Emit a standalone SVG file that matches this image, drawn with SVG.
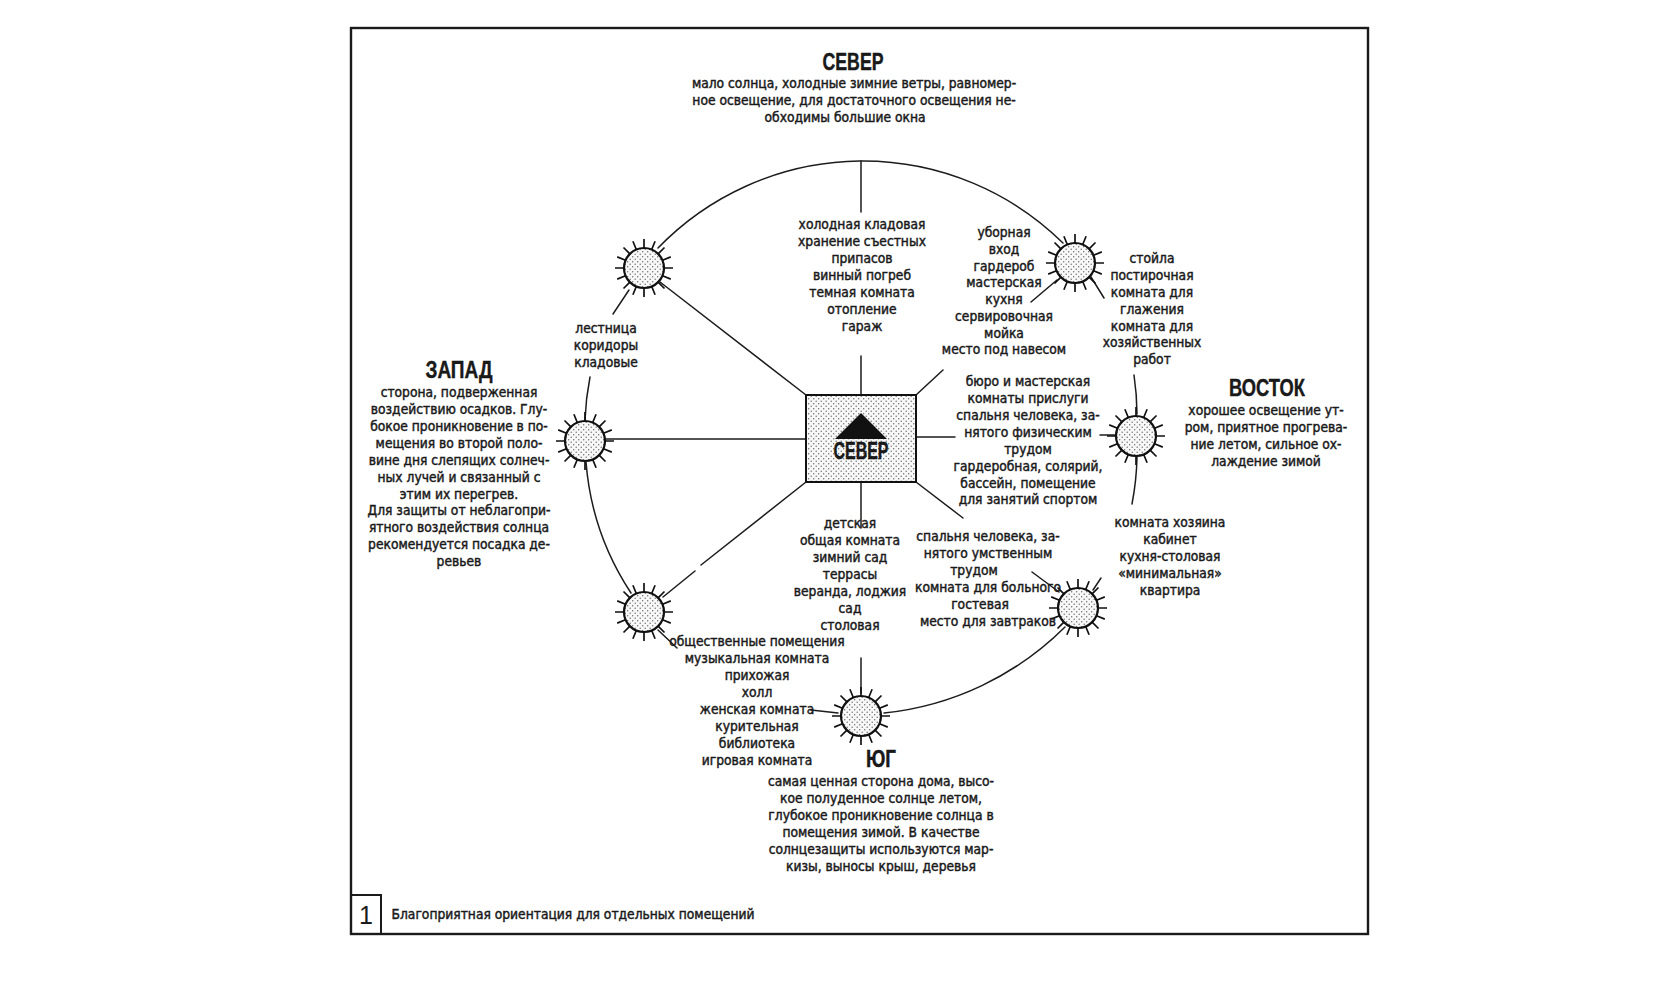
<svg xmlns="http://www.w3.org/2000/svg" xmlns:xlink="http://www.w3.org/1999/xlink" width="1680" height="995" viewBox="0 0 1680 995">
<style>
text{font-family:"DejaVu Sans Condensed","DejaVu Sans",sans-serif;fill:#1a1a1a;text-anchor:middle}
.b text,.cap{font-size:13.7px;stroke:#1a1a1a;stroke-width:.45}
.b text.h,text.h{font-family:"Liberation Sans",Arial,sans-serif;font-weight:700;font-size:23px;stroke:#111;stroke-width:.4}
.num{font-family:"Liberation Sans",Arial,sans-serif;font-size:25px}
.c{fill:none;stroke:#1c1c1c;stroke-width:1.5;stroke-linecap:round}
.s{fill:url(#dots)}
</style>
<defs>
<pattern id="dots" width="5" height="5" patternUnits="userSpaceOnUse">
<rect width="5" height="5" fill="#f8f8f8"/>
<circle cx="1.2" cy="1.2" r=".7" fill="#666"/><circle cx="3.7" cy="3.7" r=".7" fill="#666"/>
</pattern>
<g id="sun">
<circle r="20" class="s" stroke="#111" stroke-width="2.2"/>
<path fill="none" stroke="#111" stroke-width="1.7" d="M20 0H29M18.5 7.7L26.8 11.1M14.1 14.1L20.5 20.5M7.7 18.5L11.1 26.8M0 20V29M-7.7 18.5L-11.1 26.8M-14.1 14.1L-20.5 20.5M-18.5 7.7L-26.8 11.1M-20 0H-29M-18.5 -7.7L-26.8 -11.1M-14.1 -14.1L-20.5 -20.5M-7.7 -18.5L-11.1 -26.8M0 -20V-29M7.7 -18.5L11.1 -26.8M14.1 -14.1L20.5 -20.5M18.5 -7.7L26.8 -11.1"/>
</g>
</defs>
<rect width="1680" height="995" fill="#fff"/>
<g id="frame">
<rect x="351" y="28" width="1017" height="906" fill="#fff" stroke="#1a1a1a" stroke-width="2.4"/>
<rect x="351" y="895" width="30" height="39" fill="none" stroke="#1a1a1a" stroke-width="2"/>
<text class="num" x="366" y="924">1</text>
<text class="cap" x="573" y="919">Благоприятная ориентация для отдельных помещений</text>
</g>
<g id="connectors" class="c">
<path d="M658 248A285 285 0 0 1 1063 243"/>
<path d="M590 377A277 277 0 0 0 585 420"/>
<path d="M586 462A277 277 0 0 0 631 593"/>
<path d="M1134 375A277 277 0 0 1 1137 414"/>
<path d="M1137 457A277 277 0 0 1 1132 504"/>
<path d="M884 713A300 300 0 0 0 1065 627"/>
<path d="M861 161V212M861 356V395M861 482V528"/>
<path d="M806 395L660 282M806 439H606M806 482L701 565M695 571L663 597"/>
<path d="M916 395L943 370M916 437H955M1100 435H1115M916 482L963 518"/>
<path d="M1057 280L1031 302M1091 277L1104 298M629 290L613 314M658 630L677 648"/>
<path d="M861 658V693M838 713L811 710M1032 572L1059 592M1093 590L1101 578"/>
</g>
<g id="center-box">
<rect x="806" y="395" width="110" height="87" class="s" stroke="#111" stroke-width="2"/>
<polygon points="861,413 887,439 835,439" fill="#111"/>
<text class="h" x="861" y="459" textLength="55" lengthAdjust="spacingAndGlyphs">СЕВЕР</text>
</g>
<g id="sun-nw"><use href="#sun" x="644" y="268"/></g>
<g id="sun-ne"><use href="#sun" x="1075" y="263"/></g>
<g id="sun-e"><use href="#sun" x="1136" y="436"/></g>
<g id="sun-se"><use href="#sun" x="1078" y="608"/></g>
<g id="sun-s"><use href="#sun" x="861" y="716"/></g>
<g id="sun-sw"><use href="#sun" x="644" y="612"/></g>
<g id="sun-w"><use href="#sun" x="585" y="441"/></g>
<g id="north" class="b">
<text class="h" x="853" y="70" textLength="61" lengthAdjust="spacingAndGlyphs">СЕВЕР</text>
<text x="854" y="88">мало солнца, холодные зимние ветры, равномер-</text>
<text x="854" y="105">ное освещение, для достаточного освещения не-</text>
<text x="845" y="122">обходимы большие окна</text>
</g>
<g id="west" class="b">
<text class="h" x="459" y="378" textLength="67" lengthAdjust="spacingAndGlyphs">ЗАПАД</text>
<text x="459" y="397">сторона, подверженная</text>
<text x="459" y="414">воздействию осадков. Глу-</text>
<text x="459" y="431">бокое проникновение в по-</text>
<text x="459" y="448">мещения во второй поло-</text>
<text x="459" y="465">вине дня слепящих солнеч-</text>
<text x="459" y="482">ных лучей и связанный с</text>
<text x="459" y="499">этим их перегрев.</text>
<text x="459" y="515">Для защиты от неблагопри-</text>
<text x="459" y="532">ятного воздействия солнца</text>
<text x="459" y="549">рекомендуется посадка де-</text>
<text x="459" y="566">ревьев</text>
</g>
<g id="east" class="b">
<text class="h" x="1267" y="396" textLength="76" lengthAdjust="spacingAndGlyphs">ВОСТОК</text>
<text x="1266" y="415">хорошее освещение ут-</text>
<text x="1266" y="432">ром, приятное прогрева-</text>
<text x="1266" y="449">ние летом, сильное ох-</text>
<text x="1266" y="466">лаждение зимой</text>
</g>
<g id="south" class="b">
<text class="h" x="881" y="767" textLength="30" lengthAdjust="spacingAndGlyphs">ЮГ</text>
<text x="881" y="786">самая ценная сторона дома, высо-</text>
<text x="881" y="803">кое полуденное солнце летом,</text>
<text x="881" y="820">глубокое проникновение солнца в</text>
<text x="881" y="837">помещения зимой. В качестве</text>
<text x="881" y="854">солнцезащиты используются мар-</text>
<text x="881" y="871">кизы, выносы крыш, деревья</text>
</g>
<g id="rooms-n" class="b">
<text x="862" y="229">холодная кладовая</text>
<text x="862" y="246">хранение съестных</text>
<text x="862" y="263">припасов</text>
<text x="862" y="280">винный погреб</text>
<text x="862" y="297">темная комната</text>
<text x="862" y="314">отопление</text>
<text x="862" y="331">гараж</text>
</g>
<g id="rooms-ne" class="b">
<text x="1004" y="237">уборная</text>
<text x="1004" y="254">вход</text>
<text x="1004" y="271">гардероб</text>
<text x="1004" y="287">мастерская</text>
<text x="1004" y="304">кухня</text>
<text x="1004" y="321">сервировочная</text>
<text x="1004" y="338">мойка</text>
<text x="1004" y="354">место под навесом</text>
</g>
<g id="rooms-ene" class="b">
<text x="1152" y="263">стойла</text>
<text x="1152" y="280">постирочная</text>
<text x="1152" y="297">комната для</text>
<text x="1152" y="314">глажения</text>
<text x="1152" y="331">комната для</text>
<text x="1152" y="347">хозяйственных</text>
<text x="1152" y="364">работ</text>
</g>
<g id="rooms-e" class="b">
<text x="1028" y="386">бюро и мастерская</text>
<text x="1028" y="403">комнаты прислуги</text>
<text x="1028" y="420">спальня человека, за-</text>
<text x="1028" y="437">нятого физическим</text>
<text x="1028" y="454">трудом</text>
<text x="1028" y="471">гардеробная, солярий,</text>
<text x="1028" y="488">бассейн, помещение</text>
<text x="1028" y="504">для занятий спортом</text>
</g>
<g id="rooms-nw" class="b">
<text x="606" y="333">лестница</text>
<text x="606" y="350">коридоры</text>
<text x="606" y="367">кладовые</text>
</g>
<g id="rooms-s" class="b">
<text x="850" y="528">детская</text>
<text x="850" y="545">общая комната</text>
<text x="850" y="562">зимний сад</text>
<text x="850" y="579">террасы</text>
<text x="850" y="596">веранда, лоджия</text>
<text x="850" y="613">сад</text>
<text x="850" y="630">столовая</text>
</g>
<g id="rooms-se" class="b">
<text x="988" y="541">спальня человека, за-</text>
<text x="988" y="558">нятого умственным</text>
<text x="974" y="575">трудом</text>
<text x="988" y="592">комната для больного</text>
<text x="980" y="609">гостевая</text>
<text x="988" y="626">место для завтраков</text>
</g>
<g id="rooms-ese" class="b">
<text x="1170" y="527">комната хозяина</text>
<text x="1170" y="544">кабинет</text>
<text x="1170" y="561">кухня-столовая</text>
<text x="1170" y="578">«минимальная»</text>
<text x="1170" y="595">квартира</text>
</g>
<g id="rooms-sw" class="b">
<text x="757" y="646">общественные помещения</text>
<text x="757" y="663">музыкальная комната</text>
<text x="757" y="680">прихожая</text>
<text x="757" y="697">холл</text>
<text x="757" y="714">женская комната</text>
<text x="757" y="731">курительная</text>
<text x="757" y="748">библиотека</text>
<text x="757" y="765">игровая комната</text>
</g>
</svg>
